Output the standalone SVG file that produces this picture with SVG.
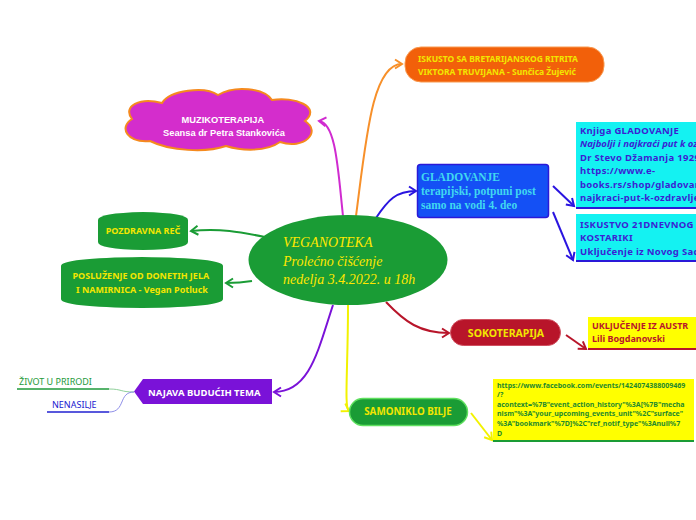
<svg xmlns="http://www.w3.org/2000/svg" width="696" height="520" viewBox="0 0 696 520">
<defs>
<style>
.s{font-family:"Noto Sans","Liberation Sans",sans-serif;font-weight:bold}
.a{font-family:"Liberation Sans",Arial,sans-serif;font-weight:bold}
.c{fill:none;stroke-width:2}
</style>
<marker id="mMag" markerUnits="userSpaceOnUse" markerWidth="12" markerHeight="12" refX="0" refY="0" viewBox="-9 -6 12 12" orient="auto"><path d="M-7,-4.5 L0,0 L-7,4.5" fill="none" stroke="#d02bd0" stroke-width="2"/></marker>
<marker id="mOra" markerUnits="userSpaceOnUse" markerWidth="12" markerHeight="12" refX="0" refY="0" viewBox="-9 -6 12 12" orient="auto"><path d="M-7,-4.5 L0,0 L-7,4.5" fill="none" stroke="#f7902a" stroke-width="2"/></marker>
<marker id="mBlu" markerUnits="userSpaceOnUse" markerWidth="12" markerHeight="12" refX="0" refY="0" viewBox="-9 -6 12 12" orient="auto"><path d="M-7,-4.5 L0,0 L-7,4.5" fill="none" stroke="#2a14e0" stroke-width="2"/></marker>
<marker id="mRed" markerUnits="userSpaceOnUse" markerWidth="12" markerHeight="12" refX="0" refY="0" viewBox="-9 -6 12 12" orient="auto"><path d="M-7,-4.5 L0,0 L-7,4.5" fill="none" stroke="#b8152a" stroke-width="2"/></marker>
<marker id="mPur" markerUnits="userSpaceOnUse" markerWidth="12" markerHeight="12" refX="0" refY="0" viewBox="-9 -6 12 12" orient="auto"><path d="M-7,-4.5 L0,0 L-7,4.5" fill="none" stroke="#7a12d8" stroke-width="2"/></marker>
<marker id="mYel" markerUnits="userSpaceOnUse" markerWidth="12" markerHeight="12" refX="0" refY="0" viewBox="-9 -6 12 12" orient="auto"><path d="M-7,-4.5 L0,0 L-7,4.5" fill="none" stroke="#f2f200" stroke-width="2"/></marker>
<marker id="mGrn" markerUnits="userSpaceOnUse" markerWidth="12" markerHeight="12" refX="0" refY="0" viewBox="-9 -6 12 12" orient="auto"><path d="M-7,-4.5 L0,0 L-7,4.5" fill="none" stroke="#1a9c35" stroke-width="2"/></marker>
</defs>
<rect width="696" height="520" fill="#ffffff"/>

<g id="connectors">
<path class="c" d="M343,216 C338,170 336,123 319,121" stroke="#d02bd0" marker-end="url(#mMag)"/>
<path class="c" d="M356,216 C366,140 372,64 402,64" stroke="#f7902a" marker-end="url(#mOra)"/>
<path class="c" d="M376,218 C388,200 396,191 416,191" stroke="#2a14e0" marker-end="url(#mBlu)"/>
<path class="c" d="M386,302 C405,322 420,333 449,333" stroke="#b8152a" marker-end="url(#mRed)"/>
<path class="c" d="M333,305 C318,350 310,392 274,392" stroke="#7a12d8" marker-end="url(#mPur)"/>
<path class="c" d="M348,305 C348,370 344,408 349,411" stroke="#f2f200" marker-end="url(#mYel)"/>
<path class="c" d="M265,237 C240,232 220,228 191,231" stroke="#1a9c35" marker-end="url(#mGrn)"/>
<path class="c" d="M252,281 C240,283 235,283 226,283" stroke="#1a9c35" marker-end="url(#mGrn)"/>
<path class="c" d="M553,186 L574,206" stroke="#2a14e0" marker-end="url(#mBlu)"/>
<path class="c" d="M553,212 L573,260" stroke="#2a14e0" marker-end="url(#mBlu)"/>
<path class="c" d="M566,335 L586,349" stroke="#b8152a" marker-end="url(#mRed)"/>
<path class="c" d="M471,413 L492,440" stroke="#f2f200" marker-end="url(#mYel)"/>
<path d="M109,389 C122,389 120,392 134,392" fill="none" stroke="#8fd09a" stroke-width="1"/>
<path d="M109,412 C126,412 118,392 134,392" fill="none" stroke="#8f8fe8" stroke-width="1"/>
</g>

<g id="central">
<ellipse cx="348" cy="260" rx="99.5" ry="45" fill="#1a9c35"/>
<text font-family="'Liberation Serif',serif" font-style="italic" font-size="14" fill="#ffe800">
<tspan x="283" y="247">VEGANOTEKA</tspan>
<tspan x="283" y="266">Prolećno čišćenje</tspan>
<tspan x="283" y="284">nedelja 3.4.2022. u 18h</tspan>
</text>
</g>

<g id="iskusto">
<rect x="405" y="47" width="199" height="35" rx="16" fill="#f2600a" stroke="#f89a50" stroke-width="1"/>
<text class="s" font-size="8.5" fill="#f2e600">
<tspan x="418" y="62">ISKUSTO SA BRETARIJANSKOG RITRITA</tspan>
<tspan x="418" y="75">VIKTORA TRUVIJANA - Sunčica Žujević</tspan>
</text>
</g>

<g id="muzikoterapija">
<path d="M150,141 C128,143 118,128 132,119 C122,106 140,97 162,103 C170,90 205,86 218,95 C235,85 264,88 272,100 C294,96 322,107 305,121 C322,132 304,150 280,142 C266,152 242,151 226,146 C206,153 170,151 150,141 Z" fill="#d42dcc" stroke="#f58a1e" stroke-width="2"/>
<text class="a" font-size="9.3" fill="#ffffff" text-anchor="middle">
<tspan x="224" y="123">MUZIKOTERAPIJA</tspan>
<tspan x="224" y="136">Seansa dr Petra Stankovića</tspan>
</text>
</g>

<g id="gladovanje">
<rect x="417.5" y="164.5" width="131" height="53" rx="3" fill="#1450f5" stroke="#2a19d8" stroke-width="1.5"/>
<text font-family="'Liberation Serif',serif" font-weight="bold" font-size="11.5" fill="#40d8f0">
<tspan x="421" y="181">GLADOVANJE</tspan>
<tspan x="421" y="195">terapijski, potpuni post</tspan>
<tspan x="421" y="209">samo na vodi 4. deo</tspan>
</text>
</g>

<g id="knjiga">
<rect x="576" y="122" width="130" height="86" fill="#14f2f2"/>
<line x1="576" y1="208" x2="696" y2="208" stroke="#2a19d8" stroke-width="2"/>
<text class="s" font-size="9.5" fill="#3b1fd3" letter-spacing="0.3">
<tspan x="580" y="134">Knjiga GLADOVANJE</tspan>
<tspan x="580" y="147" font-style="italic" letter-spacing="0">Najbolji i najkraći put k oz</tspan>
<tspan x="580" y="161">Dr Stevo Džamanja 1929</tspan>
<tspan x="580" y="174">https://www.e-</tspan>
<tspan x="580" y="188">books.rs/shop/gladovan</tspan>
<tspan x="580" y="201">najkraci-put-k-ozdravlje</tspan>
</text>
</g>

<g id="iskustvo21">
<rect x="576" y="214" width="130" height="47" fill="#14f2f2"/>
<line x1="576" y1="261" x2="696" y2="261" stroke="#2a19d8" stroke-width="2"/>
<text class="s" font-size="9.5" fill="#3b1fd3" letter-spacing="0.3">
<tspan x="580" y="228">ISKUSTVO 21DNEVNOG</tspan>
<tspan x="580" y="241">KOSTARIKI</tspan>
<tspan x="580" y="255">Uključenje iz Novog Sad</tspan>
</text>
</g>

<g id="pozdravna">
<path d="M98,220 Q98,213 143,212 Q188,213 188,220 L188,242 Q188,249 143,250 Q98,249 98,242 Z" fill="#1a9c35"/>
<text class="s" font-size="9" fill="#f2e600" text-anchor="middle" x="143" y="234">POZDRAVNA REČ</text>
</g>

<g id="posluzenje">
<path d="M61,266 Q61,258 142,257 Q223,258 223,266 L223,299 Q223,307 142,308 Q61,307 61,299 Z" fill="#1a9c35"/>
<text class="s" font-size="9" fill="#f2e600" text-anchor="middle">
<tspan x="142" y="279">POSLUŽENJE OD DONETIH JELA</tspan>
<tspan x="142" y="293"> I NAMIRNICA - Vegan Potluck</tspan>
</text>
</g>

<g id="sokoterapija">
<rect x="450.5" y="319.5" width="110" height="26" rx="13" fill="#b8152a" stroke="#d05060" stroke-width="1"/>
<text class="s" font-size="10.5" fill="#f2e600" text-anchor="middle" x="506" y="337">SOKOTERAPIJA</text>
</g>

<g id="austrija">
<rect x="588" y="317" width="110" height="32" fill="#ffff00"/>
<line x1="588" y1="349" x2="696" y2="349" stroke="#b8152a" stroke-width="2"/>
<text class="s" font-size="9" fill="#b8152a">
<tspan x="592" y="329">UKLJUČENJE IZ AUSTR</tspan>
<tspan x="592" y="342">Lili Bogdanovski</tspan>
</text>
</g>

<g id="samoniklo">
<rect x="349.5" y="398.5" width="118" height="27" rx="13.5" fill="#1a9c35" stroke="#5fe05f" stroke-width="1.5"/>
<text class="s" font-size="9.8" fill="#f2e600" text-anchor="middle" x="408" y="415">SAMONIKLO BILJE</text>
</g>

<g id="facebook">
<rect x="493" y="379" width="201" height="62" fill="#ffff00"/>
<line x1="493" y1="441" x2="694" y2="441" stroke="#1a9c35" stroke-width="2"/>
<text class="s" font-size="7" fill="#1e8a2e">
<tspan x="497" y="388">https://www.facebook.com/events/1424074388009469</tspan>
<tspan x="497" y="397">/?</tspan>
<tspan x="497" y="407">acontext=%7B"event_action_history"%3A[%7B"mecha</tspan>
<tspan x="497" y="416">nism"%3A"your_upcoming_events_unit"%2C"surface"</tspan>
<tspan x="497" y="426">%3A"bookmark"%7D]%2C"ref_notif_type"%3Anull%7</tspan>
<tspan x="497" y="436">D</tspan>
</text>
</g>

<g id="najava">
<path d="M134,391.5 L143,379 L272,379 L272,404 L143,404 Z" fill="#7a12d8"/>
<text class="s" font-size="9.5" fill="#ffffff" x="148" y="396">NAJAVA BUDUĆIH TEMA</text>
</g>

<g id="zivot">
<line x1="17" y1="389" x2="109" y2="389" stroke="#1e9a3a" stroke-width="1.5"/>
<text font-family="'Noto Sans','Liberation Sans',sans-serif" font-size="9" fill="#1e9a3a" x="19" y="385">ŽIVOT U PRIRODI</text>
</g>

<g id="nenasilje">
<line x1="47" y1="412" x2="109" y2="412" stroke="#2020d0" stroke-width="1.5"/>
<text font-family="'Noto Sans','Liberation Sans',sans-serif" font-size="9" fill="#2020d0" x="52" y="408">NENASILJE</text>
</g>
</svg>
